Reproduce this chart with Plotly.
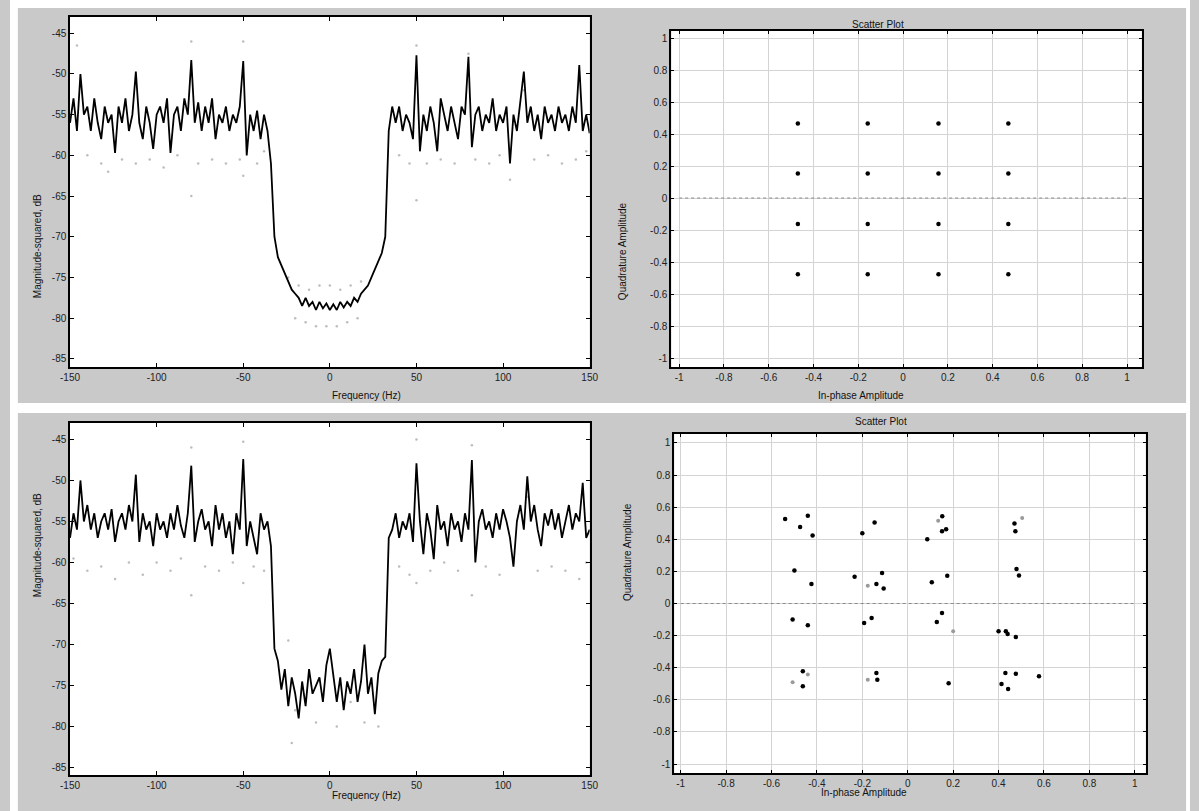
import plotly.graph_objects as go

# ---------------- data ----------------
freq_hz = list(range(-150, 151, 2))

spec_top_db = [
    -56, -53, -57, -50, -55, -54, -57, -53, -56, -58,
    -54, -56, -55, -59.7, -54, -56, -53, -57, -55, -49.7,
    -56, -58, -54, -56, -59.2, -55, -54, -56, -53, -59.7,
    -55, -54, -57, -53, -55, -48.3, -56, -53.5, -57, -54,
    -56, -53, -58, -55, -56, -54, -57, -55, -56, -54,
    -48.4, -60, -55, -57, -54.5, -58, -55, -57, -61, -70,
    -72.5, -73.5, -74.5, -75.5, -76.5, -77, -77.5, -78.5, -77.5, -78.5,
    -78, -79, -78, -78.8, -78.2, -79, -78.3, -79, -78, -78.7,
    -78, -78.5, -77.5, -78, -77, -76.5, -76, -75, -74, -73,
    -72, -70, -57, -54, -56, -54, -57, -55, -56, -58,
    -47.7, -59.5, -55, -57, -54, -56, -59.5, -53, -55, -57,
    -54, -56, -58, -54, -55, -47.9, -59, -55, -54, -57,
    -55, -56, -53, -57, -55, -56, -54, -61, -55, -57,
    -53, -49.7, -56, -54, -57, -55, -58, -54, -56, -55,
    -57, -54, -56, -55, -57, -54, -56, -48.9, -57, -55,
    -57.3,
]

spec_bot_db = [
    -57, -54, -56, -50, -55, -53, -56, -54, -57, -55,
    -54, -56, -53.5, -57.5, -55, -54, -56, -53, -55, -49.3,
    -57.5, -54, -56, -55, -58, -54, -56, -55, -57, -54,
    -56, -53, -55.5, -57, -54, -48.2, -57.5, -55, -53.5, -56,
    -55, -58, -53, -56, -54, -57, -55, -59, -54, -56,
    -47.4, -58, -55, -57, -59, -54, -56, -55, -58, -70.5,
    -72, -75.5, -73, -77.5, -74, -76, -79, -74.5, -77.5, -73,
    -76, -75, -74, -77, -72.5, -70.5, -73.5, -77, -74, -78,
    -74.5, -76, -73, -77, -74.5, -70, -76, -74, -78.5, -73.5,
    -72, -71.5, -57, -56, -54, -57, -55, -56, -54, -57.5,
    -47.9, -55, -59, -54, -56, -59.6, -53, -56, -55, -58,
    -54, -56, -55, -57.5, -54, -56, -47.5, -60, -55, -53.5,
    -56, -55, -57, -54, -56, -53.5, -55, -57, -60.5, -55,
    -53, -56, -49.5, -55, -53, -56, -58, -54, -55.5, -53.5,
    -56, -54, -57, -55, -53, -56, -54, -55, -50.3, -57,
    -56,
]

# faint grey dots (secondary trace) on each spectrum
dots_top_f = [-146, -140, -132, -128, -120, -112, -104, -96, -88, -80, -80, -76, -68, -60,
              -52, -50, -50, -42, -38, -24, -18, -12, -6, 0, 6, 12, 18, -20, -14, -8, -2,
              4, 10, 16, 40, 46, 50, 50, 56, 64, 72, 80, 84, 92, 98, 104, 112, 118, 126,
              134, 142, 148]
dots_top_db = [-46.5, -60, -61, -62, -60.5, -61, -60.5, -61.5, -60, -46, -65, -61, -60.5, -61,
               -60.5, -46, -62.5, -61, -59.5, -75, -76, -76.5, -76, -76, -76.5, -76, -75.5,
               -80, -80.5, -81, -81, -81, -80.5, -80, -60, -61, -46.5, -65.5, -61, -60.5,
               -61, -47.5, -60.5, -61, -60, -63, -52, -60.5, -60, -61, -60.5, -59.5]

dots_bot_f = [-148, -140, -132, -124, -116, -108, -100, -92, -86, -80, -80, -72, -64, -56,
              -50, -50, -44, -38, -24, -20, -22, -8, 4, 12, 20, 28, 40, 46, 50, 50, 58, 66,
              74, 82, 82, 90, 98, 106, 114, 120, 128, 136, 144, 148]
dots_bot_db = [-59.5, -61, -60.5, -62, -60, -61.5, -60, -61, -59.5, -46, -64, -60.5, -61, -60,
               -45.3, -62.5, -60.5, -61, -69.5, -78, -82, -79.5, -80, -77, -79.5, -80, -60.5,
               -61.5, -45, -62.5, -61, -60, -61, -45.7, -64, -60.5, -61.5, -60, -52, -61,
               -60.5, -61, -62, -60]

# constellation (ideal 16-QAM received)
iq_top_i = [-0.47, -0.158, 0.158, 0.47, -0.47, -0.158, 0.158, 0.47,
            -0.47, -0.158, 0.158, 0.47, -0.47, -0.158, 0.158, 0.47]
iq_top_q = [0.466, 0.466, 0.466, 0.466, 0.154, 0.154, 0.154, 0.154,
            -0.162, -0.162, -0.162, -0.162, -0.476, -0.476, -0.476, -0.476]

# constellation (distorted)
iq_bot_i = [-0.54, -0.44, -0.474, -0.419, -0.499, -0.424, -0.507, -0.44, -0.462, -0.462,
            -0.146, -0.20, -0.234, -0.113, -0.138, -0.106, -0.159, -0.192, -0.138, -0.134,
            0.152, 0.151, 0.169, 0.086, 0.106, 0.174, 0.151, 0.128, 0.18,
            0.47, 0.474, 0.479, 0.49, 0.40, 0.432, 0.44, 0.476, 0.43, 0.476, 0.413, 0.442, 0.578]
iq_bot_q = [0.526, 0.547, 0.477, 0.423, 0.205, 0.122, -0.10, -0.136, -0.422, -0.516,
            0.504, 0.437, 0.167, 0.19, 0.122, 0.094, -0.09, -0.121, -0.433, -0.475,
            0.543, 0.45, 0.462, 0.40, 0.132, 0.173, -0.059, -0.115, -0.497,
            0.498, 0.45, 0.215, 0.175, -0.173, -0.173, -0.19, -0.209, -0.433, -0.437, -0.501, -0.533, -0.453]
iq_bot_faint_i = [-0.44, -0.507, -0.176, -0.176, 0.134, 0.20, 0.504]
iq_bot_faint_q = [-0.443, -0.491, 0.111, -0.475, 0.516, -0.173, 0.533]

freq_ticks = [-150, -100, -50, 0, 50, 100, 150]
db_ticks = [-45, -50, -55, -60, -65, -70, -75, -80, -85]
amp_ticks = [-1, -0.8, -0.6, -0.4, -0.2, 0, 0.2, 0.4, 0.6, 0.8, 1]
amp_labels = ["-1", "-0.8", "-0.6", "-0.4", "-0.2", "0", "0.2", "0.4", "0.6", "0.8", "1"]

# ---------------- figure ----------------
W, H = 1199, 811
FONT = "Liberation Sans, Arial, sans-serif"
GRAY = "#c9c9c9"

def px(x):
    return x / W

def py(y):
    return 1 - y / H

fig = go.Figure()

# spectra
fig.add_trace(go.Scatter(x=dots_top_f, y=dots_top_db, mode="markers",
                         marker=dict(color="#bdbdbd", size=2.5), xaxis="x", yaxis="y",
                         showlegend=False, hoverinfo="skip"))
fig.add_trace(go.Scatter(x=freq_hz, y=spec_top_db, mode="lines",
                         line=dict(color="black", width=1.8), xaxis="x", yaxis="y",
                         showlegend=False))
fig.add_trace(go.Scatter(x=dots_bot_f, y=dots_bot_db, mode="markers",
                         marker=dict(color="#bdbdbd", size=2.5), xaxis="x3", yaxis="y3",
                         showlegend=False, hoverinfo="skip"))
fig.add_trace(go.Scatter(x=freq_hz, y=spec_bot_db, mode="lines",
                         line=dict(color="black", width=1.8), xaxis="x3", yaxis="y3",
                         showlegend=False))

# constellations
fig.add_trace(go.Scatter(x=iq_top_i, y=iq_top_q, mode="markers",
                         marker=dict(color="black", size=4.5), xaxis="x2", yaxis="y2",
                         showlegend=False))
fig.add_trace(go.Scatter(x=iq_bot_faint_i, y=iq_bot_faint_q, mode="markers",
                         marker=dict(color="#9a9a9a", size=4), xaxis="x4", yaxis="y4",
                         showlegend=False))
fig.add_trace(go.Scatter(x=iq_bot_i, y=iq_bot_q, mode="markers",
                         marker=dict(color="black", size=4.5), xaxis="x4", yaxis="y4",
                         showlegend=False))

tickfont = dict(family=FONT, size=10, color="#222")

def spec_axes(xdom, ydom, yrange):
    xa = dict(domain=xdom, range=[-150, 150], tickvals=freq_ticks,
              ticktext=[str(v) for v in freq_ticks], ticks="inside", ticklen=4,
              tickcolor="black", showline=True, linecolor="black", linewidth=1.5,
              mirror="ticks", showgrid=False, zeroline=False, tickfont=tickfont)
    ya = dict(domain=ydom, range=yrange, tickvals=db_ticks,
              ticktext=[str(v) for v in db_ticks], ticks="inside", ticklen=4,
              tickcolor="black", showline=True, linecolor="black", linewidth=1.5,
              mirror="ticks", showgrid=False, zeroline=False, tickfont=tickfont)
    return xa, ya

def iq_axes(xdom, ydom, xrange, yrange):
    common = dict(tickvals=amp_ticks, ticktext=amp_labels, ticks="inside", ticklen=3,
                  tickcolor="black", showline=True, linecolor="black", linewidth=2,
                  mirror="ticks", showgrid=True, gridcolor="#d4d4d4", gridwidth=1,
                  zeroline=False, tickfont=tickfont)
    xa = dict(domain=xdom, range=xrange, **common)
    ya = dict(domain=ydom, range=yrange, **common)
    return xa, ya

x1, y1 = spec_axes([px(61), px(589)], [py(367), py(17)], [-86, -43])
x3, y3 = spec_axes([px(61), px(589)], [py(775), py(423)], [-85.9, -43])
x2, y2 = iq_axes([px(672), px(1150)], [py(367), py(31)], [-1.035, 1.066], [-1.056, 1.044])
x4, y4 = iq_axes([px(675), px(1154)], [py(773), py(434)], [-1.028, 1.048], [-1.056, 1.056])

x1.update(anchor="y"); y1.update(anchor="x")
x2.update(anchor="y2"); y2.update(anchor="x2")
x3.update(anchor="y3"); y3.update(anchor="x3")
x4.update(anchor="y4"); y4.update(anchor="x4")

shapes = [
    # white frame strips around / between the grey figure panels
    dict(type="rect", xref="paper", yref="paper", x0=0, x1=1, y0=py(8), y1=1,
         fillcolor="white", line=dict(width=0), layer="below"),
    dict(type="rect", xref="paper", yref="paper", x0=0, x1=px(8), y0=0, y1=1,
         fillcolor="white", line=dict(width=0), layer="below"),
    dict(type="rect", xref="paper", yref="paper", x0=px(1195), x1=1, y0=0, y1=1,
         fillcolor="white", line=dict(width=0), layer="below"),
    dict(type="rect", xref="paper", yref="paper", x0=0, x1=1, y0=py(413), y1=py(403),
         fillcolor="white", line=dict(width=0), layer="below"),
    dict(type="line", xref="x2", yref="y2", x0=-1, x1=1, y0=0, y1=0,
         line=dict(color="#8a8a8a", width=1, dash="dot")),
    dict(type="line", xref="x4", yref="y4", x0=-1, x1=1, y0=0, y1=0,
         line=dict(color="#8a8a8a", width=1, dash="dot")),
]

lab = dict(family=FONT, size=10, color="#111")
annotations = [
    dict(text="Frequency (Hz)", x=px(325), y=py(395), xref="paper", yref="paper",
         showarrow=False, font=lab),
    dict(text="Magnitude-squared, dB", x=px(20), y=py(192), xref="paper", yref="paper",
         showarrow=False, font=lab, textangle=-90),
    dict(text="Scatter Plot", x=px(910), y=py(17), xref="paper", yref="paper",
         showarrow=False, font=lab),
    dict(text="In-phase Amplitude", x=px(910), y=py(395), xref="paper", yref="paper",
         showarrow=False, font=lab),
    dict(text="Quadrature Amplitude", x=px(623), y=py(200), xref="paper", yref="paper",
         showarrow=False, font=lab, textangle=-90),
    dict(text="Frequency (Hz)", x=px(325), y=py(803), xref="paper", yref="paper",
         showarrow=False, font=lab),
    dict(text="Magnitude-squared, dB", x=px(20), y=py(599), xref="paper", yref="paper",
         showarrow=False, font=lab, textangle=-90),
    dict(text="Scatter Plot", x=px(913), y=py(421), xref="paper", yref="paper",
         showarrow=False, font=lab),
    dict(text="In-phase Amplitude", x=px(913), y=py(800), xref="paper", yref="paper",
         showarrow=False, font=lab),
    dict(text="Quadrature Amplitude", x=px(627), y=py(603), xref="paper", yref="paper",
         showarrow=False, font=lab, textangle=-90),
]

fig.update_layout(
    width=W, height=H, margin=dict(l=0, r=0, t=0, b=0),
    paper_bgcolor=GRAY, plot_bgcolor="white",
    xaxis=x1, yaxis=y1, xaxis2=x2, yaxis2=y2, xaxis3=x3, yaxis3=y3, xaxis4=x4, yaxis4=y4,
    shapes=shapes, annotations=annotations, showlegend=False,
    font=dict(family=FONT),
)

fig.write_html(
    "out.html",
    config=dict(displayModeBar=False),
    post_script="document.body.style.margin='0';document.body.style.overflow='hidden';"
                "document.documentElement.style.overflow='hidden';",
)
